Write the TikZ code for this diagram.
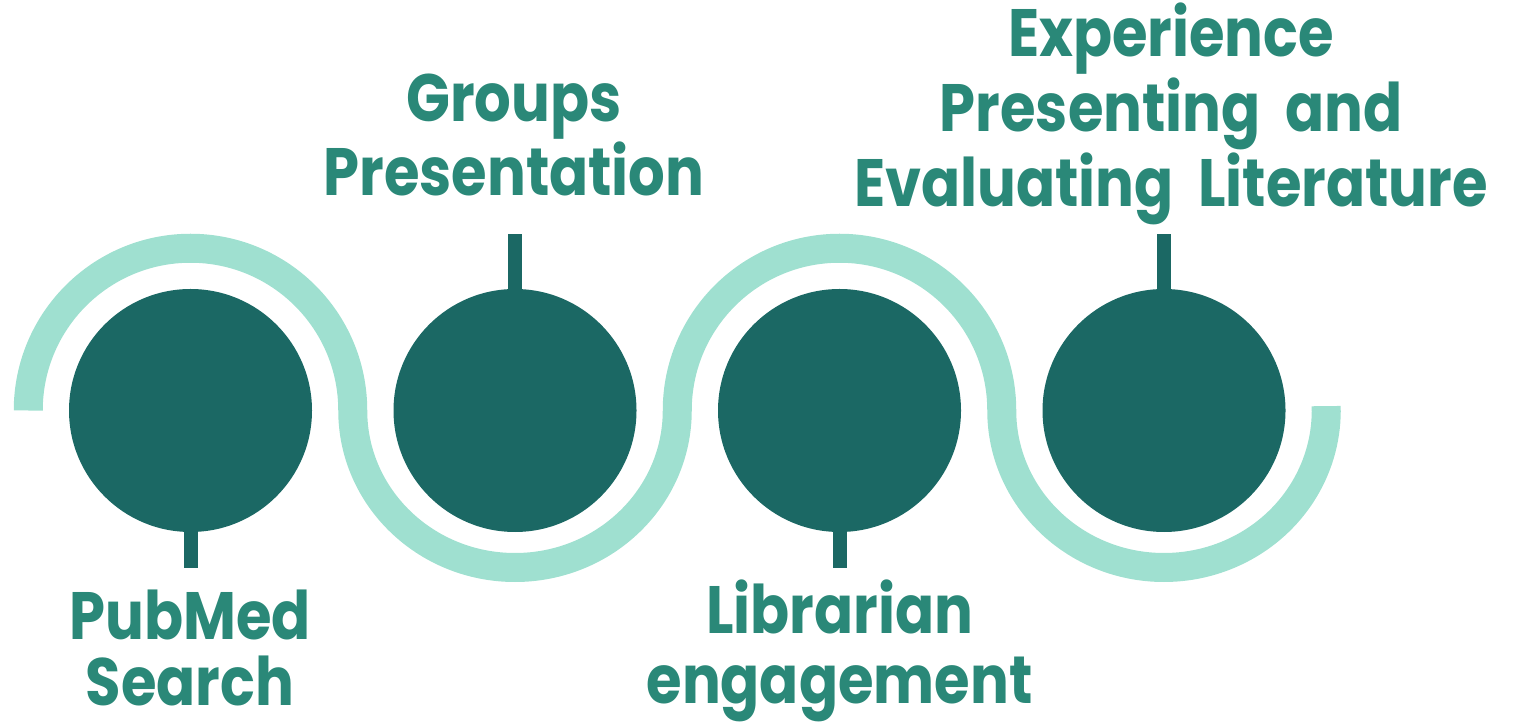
\documentclass[tikz,border=0pt]{standalone}
\usepackage{fontspec}
\newfontfamily\lab[FakeStretch=0.86,WordSpace=2]{Poppins}
\definecolor{dark}{HTML}{1B6864}
\definecolor{wave}{HTML}{9FE0D0}
\definecolor{txt}{HTML}{2A8878}
\tikzset{
  disc/.style={circle,fill=dark,minimum size=243pt,inner sep=0pt},
  stem/.style={draw=dark,line width=14pt},
  wavy/.style={draw=wave,line width=29pt,line cap=butt},
  lbl/.style={text=txt,align=center,inner sep=0pt,anchor=base,
    font={\lab\bfseries\fontsize{67}{#1}\selectfont}},
}
\begin{document}
\begin{tikzpicture}[x=1pt,y=1pt]
\useasboundingbox (0,0) rectangle (1522,723);
% wave
\draw[wavy] (28.25,312.5) arc[start angle=180,end angle=0,radius=162.25]
  arc[start angle=180,end angle=360,x radius=162.25,y radius=157]
  arc[start angle=180,end angle=0,radius=162.25]
  arc[start angle=180,end angle=361.6,x radius=162.25,y radius=157];
% circles
\node[disc] (c1) at (190.5,312.5) {};
\node[disc] (c2) at (515,312.5) {};
\node[disc] (c3) at (839.5,312.5) {};
\node[disc] (c4) at (1164,312.5) {};
% stems
\coordinate (s1) at ([yshift=-36pt]c1.south);
\coordinate (s2) at ([yshift=55pt]c2.north);
\coordinate (s3) at ([yshift=-36pt]c3.south);
\coordinate (s4) at ([yshift=55pt]c4.north);
\draw[stem] (c1.south) -- (s1);
\draw[stem] (c2.north) -- (s2);
\draw[stem] (c3.south) -- (s3);
\draw[stem] (c4.north) -- (s4);
% labels
\node[lbl=66] (l1) at (190,18) {PubMed\\Search};
\node[lbl=74] (l2) at (514,527) {Groups\\Presentation};
\node[lbl=70] (l3) at (839.5,20) {Librarian\\engagement};
\node[lbl=75] (l4) at (1171,516) {Experience\\Presenting and\\Evaluating Literature};
\end{tikzpicture}
\end{document}
